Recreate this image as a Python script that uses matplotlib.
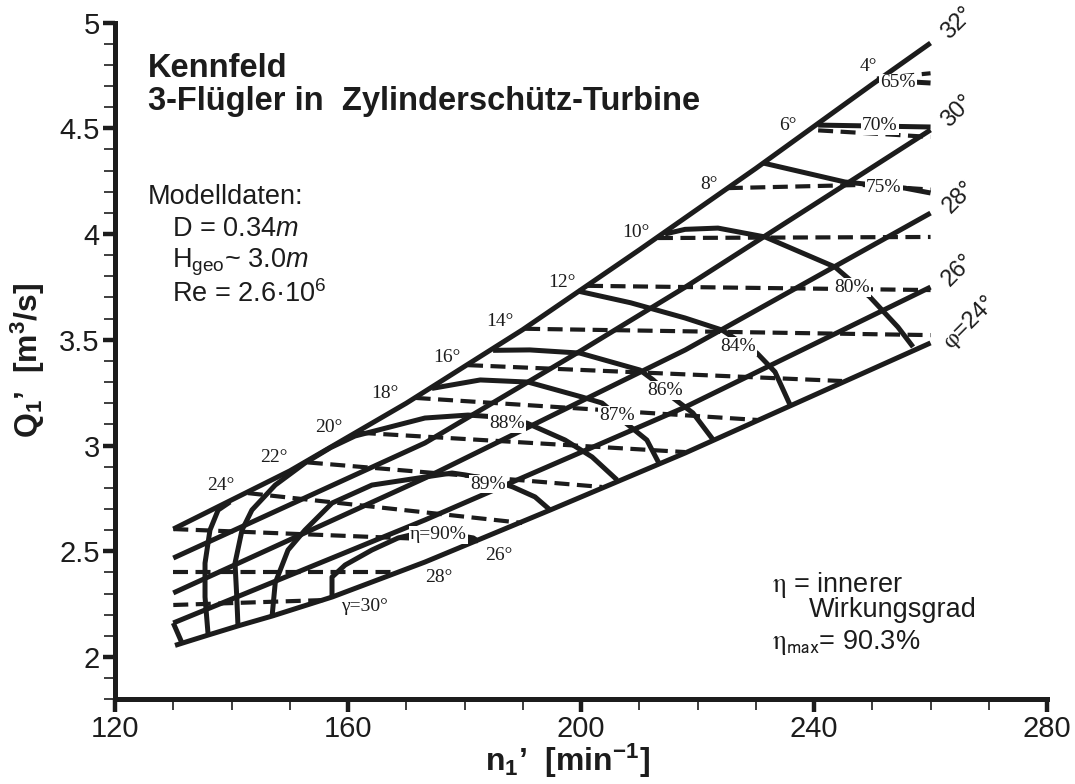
import matplotlib
matplotlib.use("Agg")
import matplotlib.pyplot as plt
from matplotlib.ticker import MultipleLocator

plt.rcParams["font.family"] = ["Liberation Sans", "DejaVu Sans"]
plt.rcParams["mathtext.fontset"] = "custom"
plt.rcParams["mathtext.rm"] = "Liberation Sans"
plt.rcParams["mathtext.it"] = "Liberation Sans:italic"
plt.rcParams["mathtext.bf"] = "Liberation Sans:bold"
plt.rcParams["mathtext.default"] = "regular"

SERIF = ["Liberation Serif", "DejaVu Serif"]
INK = "#1c1c1c"

# blade angle lines phi (n1' in 1/min, Q1' in m^3/s)
phi_labels = ["32°", "30°", "28°", "26°", "$\\mathrm{\\varphi}$=24°"]
phi_n = [
    [130, 150, 170, 190, 210, 230, 250, 260],
    [130, 173.2, 200.2, 217.9, 260],
    [130, 173.2, 217.9, 260],
    [130, 173.2, 217.9, 260],
    [130.3, 136.0, 141.1, 147.0, 157.3, 173.2, 194.7, 217.9, 260],
]
phi_q = [
    [2.605, 2.88, 3.20, 3.548, 3.925, 4.31, 4.708, 4.903],
    [2.468, 3.012, 3.452, 3.749, 4.492],
    [2.303, 2.846, 3.452, 4.099],
    [2.161, 2.648, 3.182, 3.749],
    [2.055, 2.104, 2.147, 2.194, 2.284, 2.449, 2.695, 2.965, 3.485],
]
phi_lab_n = [264.7, 264.7, 264.9, 264.7, 266.8]
phi_lab_q = [4.998, 4.582, 4.175, 3.830, 3.579]

# short closing edge at the lower left corner
edge_n = [130, 131.5]
edge_q = [2.161, 2.066]

# guide vane angle lines gamma (dashed)
gamma_labels = ["4°", "6°", "8°", "10°", "12°", "14°", "16°", "18°", "20°",
                "22°", "24°", "26°", "28°", "γ=30°"]
gamma_n = [
    [250.8, 260],
    [240.7, 260],
    [225.2, 248.2, 260],
    [213.2, 260],
    [201.2, 260],
    [190.4, 260],
    [180.6, 244.8],
    [171.6, 230.2],
    [162.2, 217.9],
    [153.1, 203.6],
    [142.8, 189.9],
    [130, 182.3],
    [130, 168.6],
    [130, 156.6],
]
gamma_q = [
    [4.735, 4.76],
    [4.49, 4.459],
    [4.217, 4.232, 4.21],
    [3.981, 3.986],
    [3.755, 3.735],
    [3.552, 3.522],
    [3.38, 3.305],
    [3.225, 3.121],
    [3.06, 2.969],
    [2.92, 2.804],
    [2.775, 2.634],
    [2.605, 2.548],
    [2.402, 2.402],
    [2.246, 2.27],
]
gamma_lab_n = [249.4, 235.5, 222.0, 209.4, 196.7, 186.1, 177.0, 166.4, 156.7,
               147.3, 138.2, 185.8, 175.5, 162.9]
gamma_lab_q = [4.794, 4.511, 4.236, 4.009, 3.773, 3.584, 3.418, 3.248, 3.087,
               2.941, 2.813, 2.482, 2.374, 2.241]

# efficiency contours (solid)
eta_n = [
    [157.25, 157.25, 159.5, 164.1, 168.6, 171.5, 175.8, 181.5, 182.3],
    [146.95, 147.5, 149.7, 152.6, 157.25, 164.1, 173.2, 177.85, 180.1, 184.4,
     188.3, 192.1, 194.7],
    [141.1, 140.9, 140.6, 141.8, 143.5, 147.5, 152.6, 157.0, 161.2, 173.2,
     180.6, 185.5, 190.7, 197.25, 201.9, 206.2],
    [135.97, 135.45, 135.45, 136.3, 137.7, 139.74],
    [174.4, 182.7, 190.9, 200.2, 203.6, 207.7, 211.3, 213.4],
    [184.9, 191.2, 199.8, 210.1, 212.4, 215.8, 219.2, 222.6],
    [199.5, 208.5, 217.85, 224.2, 230.2, 233.3, 235.9],
    [214.4, 217.85, 223.5, 231.6, 243.6, 249.6, 254.4, 257.0],
    [231.2, 245.3, 255.6, 260],
    [240.7, 260],
    [250.8, 260],
]
eta_q = [
    [2.284, 2.378, 2.435, 2.506, 2.563, 2.582, 2.59, 2.563, 2.548],
    [2.189, 2.350, 2.506, 2.600, 2.728, 2.813, 2.851, 2.870, 2.861, 2.84,
     2.804, 2.757, 2.695],
    [2.151, 2.284, 2.444, 2.600, 2.695, 2.813, 2.917, 2.99, 3.045, 3.130,
     3.144, 3.135, 3.106, 3.026, 2.946, 2.837],
    [2.109, 2.284, 2.444, 2.600, 2.695, 2.733],
    [3.27, 3.310, 3.300, 3.229, 3.201, 3.106, 3.026, 2.915],
    [3.45, 3.452, 3.437, 3.357, 3.310, 3.225, 3.154, 3.03],
    [3.73, 3.675, 3.603, 3.546, 3.437, 3.348, 3.191],
    [4.0, 4.022, 4.028, 3.986, 3.844, 3.702, 3.560, 3.466],
    [4.336, 4.246, 4.217, 4.194],
    [4.515, 4.506],
    [4.728, 4.714],
]
eta_labels = ["η=90%", "89%", "88%", "87%", "86%", "84%", "80%", "75%", "70%", "65%"]
eta_lab_n = [175.5, 184.0, 187.3, 206.2, 214.4, 227.0, 246.5, 252.0, 251.3, 254.4]
eta_lab_q = [2.577, 2.818, 3.106, 3.144, 3.262, 3.466, 3.745, 4.222, 4.511, 4.714]

x_ticks = [120, 160, 200, 240, 280]
y_ticks = [2, 2.5, 3, 3.5, 4, 4.5, 5]
y_ticklabels = ["2", "2.5", "3", "3.5", "4", "4.5", "5"]

W, H = 1075, 784


def fx(px):
    return px / W


def fy(py):
    return 1 - py / H


fig = plt.figure(figsize=(W / 100, H / 100), dpi=100)
ax = fig.add_axes([0.107, 0.108, 0.867, 0.8633])
ax.set_xlim(120, 280)
ax.set_ylim(1.8, 5.0)

for s in ("top", "right"):
    ax.spines[s].set_visible(False)
for s in ("left", "bottom"):
    ax.spines[s].set_linewidth(3.6)
    ax.spines[s].set_color(INK)

ax.set_xticks(x_ticks)
ax.set_yticks(y_ticks)
ax.set_yticklabels(y_ticklabels)
ax.xaxis.set_minor_locator(MultipleLocator(10))
ax.yaxis.set_minor_locator(MultipleLocator(0.1))
ax.tick_params(which="major", length=9, width=3.2, color=INK, labelsize=21,
               pad=2, labelcolor=INK)
ax.tick_params(which="minor", length=8, width=1.2, color=INK)

solid = dict(color=INK, lw=3.6, solid_capstyle="butt", solid_joinstyle="round",
             zorder=3)
dashed = dict(color=INK, lw=3.0, linestyle=(0, (3.6, 1.8)), dash_capstyle="butt",
              zorder=2)

for n, q in zip(phi_n, phi_q):
    ax.plot(n, q, **solid)
ax.plot(edge_n, edge_q, **solid)
for n, q in zip(gamma_n, gamma_q):
    ax.plot(n, q, **dashed)
for n, q in zip(eta_n, eta_q):
    ax.plot(n, q, **solid)

for lab, n, q in zip(phi_labels, phi_lab_n, phi_lab_q):
    ax.text(n, q, lab, fontsize=17, rotation=45, ha="center", va="center",
            color=INK, math_fontfamily="stix", clip_on=False)

for lab, n, q in zip(gamma_labels, gamma_lab_n, gamma_lab_q):
    ax.text(n, q, lab, family=SERIF, fontsize=14, ha="center", va="center",
            color=INK, zorder=5)

box = dict(boxstyle="square,pad=0.05", fc="white", ec="none")
for lab, n, q in zip(eta_labels, eta_lab_n, eta_lab_q):
    ax.text(n, q, lab, family=SERIF, fontsize=14, ha="center", va="center",
            color=INK, bbox=box, zorder=5)

# header and model data
fig.text(fx(148), fy(77), "Kennfeld", fontsize=23.5, fontweight="bold",
         color=INK, va="baseline")
fig.text(fx(148), fy(110), "3-Flügler in  Zylinderschütz-Turbine", fontsize=23.5,
         fontweight="bold", color=INK, va="baseline")
fig.text(fx(148), fy(204), "Modelldaten:", fontsize=19.5, color=INK, va="baseline")
fig.text(fx(172), fy(236), "D = 0.34$\\mathit{m}$", fontsize=19.5, color=INK,
         va="baseline")
fig.text(fx(172), fy(268), "H$_{geo}$~ 3.0$\\mathit{m}$", fontsize=19.5, color=INK,
         va="baseline")
fig.text(fx(172), fy(302), "Re = 2.6·10$^{6}$", fontsize=19.5, color=INK,
         va="baseline")

# efficiency note
fig.text(fx(772), fy(592), "$\\mathrm{\\eta}$ = innerer", fontsize=19.5,
         color=INK, va="baseline", math_fontfamily="stix")
fig.text(fx(809), fy(617), "Wirkungsgrad", fontsize=19.5, color=INK,
         va="baseline")
fig.text(fx(772), fy(649), "$\\mathrm{\\eta}_{\\mathsf{max}}$= 90.3%", fontsize=19.5,
         color=INK, va="baseline", math_fontfamily="stix")

# axis titles
fig.text(fx(567), fy(761), "n$_{1}$’  [min$^{-1}$]", fontsize=23, fontweight="bold",
         color=INK, ha="center", va="center")
fig.text(fx(28), fy(360), "Q$_{1}$’  [m$^{3}$/s]", fontsize=23, fontweight="bold",
         color=INK, ha="center", va="center", rotation=90)

fig.savefig("out.png", dpi=100)
